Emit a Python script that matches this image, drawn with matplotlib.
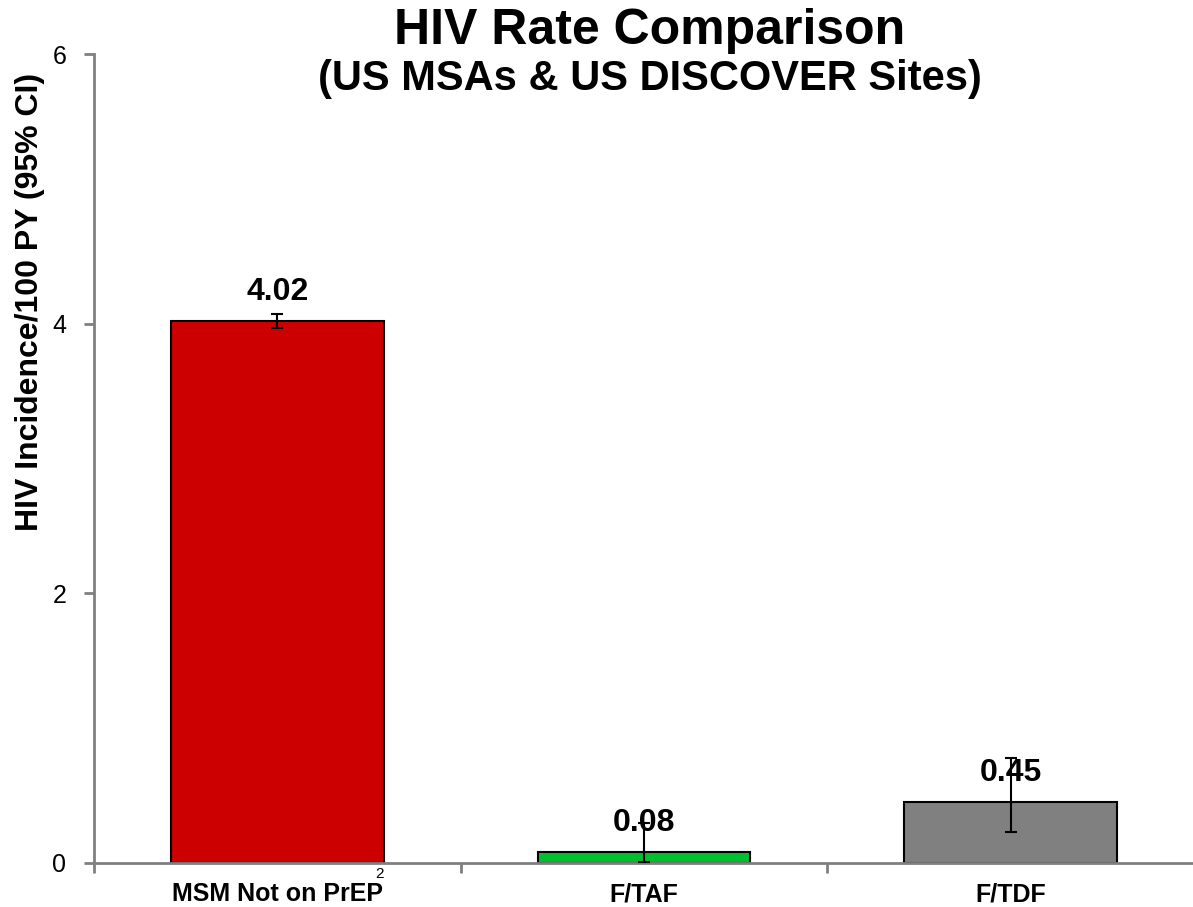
import matplotlib
matplotlib.use("Agg")
import matplotlib.pyplot as plt
import numpy as np

categories = ["MSM Not on PrEP", "F/TAF", "F/TDF"]
values = [4.02, 0.08, 0.45]
ci_low = [3.97, 0.01, 0.23]
ci_high = [4.07, 0.30, 0.78]
value_labels = ["4.02", "0.08", "0.45"]
colors = ["#CC0000", "#00C030", "#808080"]
yticks = [0, 2, 4, 6]

plt.rcParams['font.family'] = ['Liberation Sans', 'DejaVu Sans']

fig = plt.figure(figsize=(11.93, 9.07), dpi=100)
ax = fig.add_axes([94/1193, (907-863)/907, 1100/1193, (863-54)/907])

x = np.arange(len(categories))
yerr = np.array([[v - l for v, l in zip(values, ci_low)], [h - v for v, h in zip(values, ci_high)]])
ax.bar(x, values, width=0.58, color=colors, edgecolor="black", linewidth=1.5, zorder=2)
ax.errorbar(x, values, yerr=yerr, fmt="none", ecolor="black", elinewidth=1.5, capsize=4.5, capthick=1.5, zorder=3)
for xi, v, lab in zip(x, values, value_labels):
    ax.annotate(lab, (xi, v), xytext=(0, 15), textcoords="offset points", ha="center", va="baseline",
                fontsize=23, fontweight="bold", zorder=4)

ax.set_xlim(-0.5, 2.5)
ax.set_ylim(0, 6)
ax.set_yticks(yticks)
ax.set_yticklabels([str(t) for t in yticks], fontsize=18)
ax.set_xticks([-0.5, 0.5, 1.5, 2.5])
ax.set_xticklabels([])
ax.set_xticks(x, minor=True)
ax.set_xticklabels(categories, minor=True, fontsize=18, fontweight="bold")
ax.tick_params(axis="x", which="minor", length=0, pad=14)
ax.tick_params(axis="x", which="major", length=7, color="#808080", width=2, direction="out")
ax.tick_params(axis="y", length=7, color="#808080", width=2, direction="out", pad=13)
for s in ["top", "right"]:
    ax.spines[s].set_visible(False)
for s in ["left", "bottom"]:
    ax.spines[s].set_color("#808080")
    ax.spines[s].set_linewidth(2)

fig.text(30/1193, 1 - 302/907, "HIV Incidence/100 PY (95% CI)", rotation=90, ha="center", va="center",
         fontsize=23, fontweight="bold")
ax.text(0.28, -0.03, "2", transform=ax.transData, fontsize=11, ha="center", va="top")

fig.text(650/1193, 1 - 31/907, "HIV Rate Comparison", ha="center", va="center", fontsize=36, fontweight="bold")
fig.text(650/1193, 1 - 79/907, "(US MSAs & US DISCOVER Sites)", ha="center", va="center", fontsize=30, fontweight="bold")

fig.savefig("out.png", dpi=100)
